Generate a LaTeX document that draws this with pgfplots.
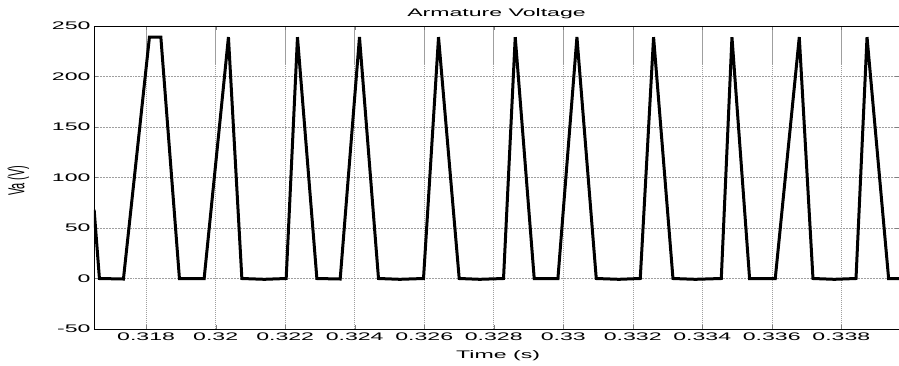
\documentclass[border=0pt]{standalone}
\usepackage{pgfplots}
\pgfplotsset{compat=1.18}
\usepackage{fontspec}
\setmainfont{Liberation Sans}
\newfontfamily\wide[FakeStretch=2.1]{Liberation Sans}
\begin{document}
\begin{tikzpicture}
\path[use as bounding box] (-94pt,-36pt) rectangle (805pt,329pt);
\begin{axis}[
  scale only axis,
  width=805pt, height=303pt,
  xmin=0.3165, xmax=0.33966,
  ymin=-50, ymax=250,
  xtick={0.318,0.320,0.322,0.324,0.326,0.328,0.330,0.332,0.334,0.336,0.338},
  xticklabels={0.318,0.32,0.322,0.324,0.326,0.328,0.33,0.332,0.334,0.336,0.338},
  ytick={-50,0,50,100,150,200,250},
  scaled x ticks=false,
  /pgf/number format/assume math mode=true,
  tick label style={font=\wide\fontsize{11}{13}\selectfont},
  title={\wide\fontsize{11}{13}\selectfont Armature Voltage},
  title style={yshift=-2pt},
  xlabel={\wide\fontsize{11}{13}\selectfont Time (s)},
  xlabel style={at={(axis description cs:0.502,-0.088)}, anchor=center},
  ylabel={\fontsize{11}{13}\selectfont\scalebox{1}[2.1]{Va (V)}},
  ylabel style={at={(axis description cs:-0.094,0.49)}, anchor=center},
  tick align=inside,
  major tick length=4pt,
  axis line style={line width=0.8pt},
  xmajorgrids, ymajorgrids,
  x grid style={gray!75, line width=0.5pt, dash pattern=on 1.5pt off 0.5pt},
  y grid style={gray!75, line width=0.5pt, densely dotted},
  clip=true,
]
\addplot[black, line width=3pt, line join=miter, miter limit=3] coordinates {
(0.316504,68)
(0.316656,0)
(0.317347,-0.5)
(0.318095,239)
(0.318423,239)
(0.318958,0)
(0.319669,0)
(0.320368,239)
(0.320754,0)
(0.3214,-0.8)
(0.322029,0)
(0.322354,239)
(0.322912,0)
(0.323583,-0.5)
(0.324138,239)
(0.324685,0)
(0.3253,-0.8)
(0.32598,0)
(0.326412,239)
(0.327007,0)
(0.3276,-0.8)
(0.328282,0)
(0.328619,239)
(0.329165,0)
(0.329847,0)
(0.330394,239)
(0.33095,0)
(0.3316,-0.8)
(0.332216,0)
(0.332599,239)
(0.333157,0)
(0.3338,-0.8)
(0.334547,0)
(0.334854,239)
(0.335361,0)
(0.3361,0)
(0.336791,239)
(0.337185,0)
(0.3378,-0.8)
(0.338423,0)
(0.33874,239)
(0.339361,0)
(0.33966,0)
};
\end{axis}
\end{tikzpicture}
\end{document}
